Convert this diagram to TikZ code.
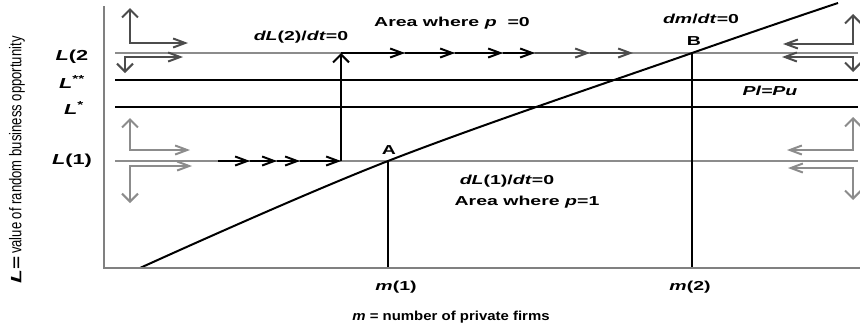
\documentclass[tikz,border=0pt]{standalone}
\usepackage{fontspec}
\setmainfont{Liberation Sans}
\newfontfamily\plotfont{Liberation Sans}[FakeStretch=1.5]
\newfontfamily\axisfont{Liberation Sans}[FakeStretch=1.15]
\newfontfamily\yaxisfont{Liberation Sans}[FakeStretch=0.77]
\usepackage{tikz}
\usetikzlibrary{arrows.meta, calc}
\tikzset{
  hb/.tip={Straight Barb[length=12pt, width=9pt]},
  vb/.tip={Straight Barb[length=8pt, width=16pt]},
  axisline/.style={line width=2pt, draw=black!50},
  level/.style={line width=2.2pt, draw=#1},
  phase/.style={line width=2pt, draw=#1},
  trail/.style={line width=2pt, draw=#1, -hb},
  drop/.style={line width=1.5pt, draw=black},
  lbl/.style={inner sep=0pt, font=\fontsize{13}{15}\plotfont\bfseries},
  sidelbl/.style={inner sep=0pt, font=\fontsize{14.5}{16}\plotfont\bfseries},
  axlbl/.style={inner sep=0pt, font=\fontsize{13}{15}\axisfont\bfseries}
}
\begin{document}
\begin{tikzpicture}[x=1pt, y=-1pt]
  \useasboundingbox (0,0) rectangle (860,327);
  \coordinate (origin) at (104,268);
  \coordinate (A) at (388,161);
  \coordinate (B) at (692,53);
  \coordinate (rise) at (341,161);
  \coordinate (riseend) at (341,53);

  \draw[level=black!45] (115,53) -- (858,53);
  \draw[level=black] (115,80) -- (858,80);
  \draw[level=black] (115,107) -- (858,107);
  \draw[level=black!45] (115,161) -- (858,161);

  \draw[phase=black!70, vb-hb] (130,8) -- (130,43) -- (188,43);
  \draw[phase=black!70, vb-hb] (125,73) -- (125,57) -- (183,57);
  \draw[phase=black!45, vb-hb] (130,118) -- (130,150) -- (190,150);
  \draw[phase=black!45, vb-hb] (130,203) -- (130,166) -- (192,166);
  \draw[phase=black!70, vb-hb] (853,14) -- (853,44) -- (783,44);
  \draw[phase=black!70, vb-hb] (853,72) -- (853,57) -- (782,57);
  \draw[phase=black!45, vb-hb] (853,117) -- (853,150) -- (787,150);
  \draw[phase=black!45, vb-hb] (853,200) -- (853,168) -- (788,168);

  \draw[trail=black] (218,161) -- (250,161);
  \draw[trail=black] (250,161) -- (277,161);
  \draw[trail=black] (277,161) -- (300,161);
  \draw[trail=black] (300,161) -- (rise);
  \draw[phase=black, -vb] (rise) -- (riseend);
  \draw[trail=black] (riseend) -- (405,53);
  \draw[trail=black] (405,53) -- (455,53);
  \draw[trail=black] (455,53) -- (503,53);
  \draw[trail=black] (503,53) -- (535,53);
  \draw[trail=black!70] (535,53) -- (590,53);
  \draw[trail=black!70] (590,53) -- (633,53);

  \draw[drop] (A) -- (A |- origin);
  \draw[drop] (B) -- (B |- origin);
  \draw[line width=2pt] plot[smooth, tension=0.6] coordinates {(140,268) (A) (B) (838,3)};
  \draw[axisline] (104,6) -- (origin) -- (860,268);

  \node[lbl] (areazero) at (452,23) {Area where \textit{p} \ =0};
  \node[lbl] (dltwo) at (301,37) {\textit{dL}(2)/\textit{dt}=0};
  \node[lbl] (dmdt) at (701,19) {\textit{dm}/\textit{dt}=0};
  \node[lbl] (blbl) at (694,41) {B};
  \node[lbl] (plpu) at (770,91) {\textit{Pl=Pu}};
  \node[lbl] (albl) at (389,150) {A};
  \node[lbl] (dlone) at (507,181) {\textit{dL}(1)/\textit{dt}=0};
  \node[lbl] (areaone) at (527,202) {Area where \textit{p}=1};
  \node[lbl] (mone) at (396,287) {\textit{m}(1)};
  \node[lbl] (mtwo) at (690,287) {\textit{m}(2)};
  \node[axlbl] (mlabel) at (451,317) {\textit{m} = number of private firms};
  \node[sidelbl] (ltwo) at (72,57) {\textit{L}(2};
  \node[sidelbl] (lss) at (72,82) {\textit{L}\textsuperscript{**}};
  \node[sidelbl] (ls) at (74,108) {\textit{L}\textsuperscript{*}};
  \node[sidelbl] (lone) at (72,161) {\textit{L}(1)};
  \node[inner sep=0pt, rotate=90] (ylabel) at (17,160)
    {{\fontsize{15}{17}\plotfont\bfseries\itshape L}{\fontsize{15}{17}\plotfont\bfseries =}\ {\fontsize{17}{19}\yaxisfont value of random business opportunity}};
\end{tikzpicture}
\end{document}
